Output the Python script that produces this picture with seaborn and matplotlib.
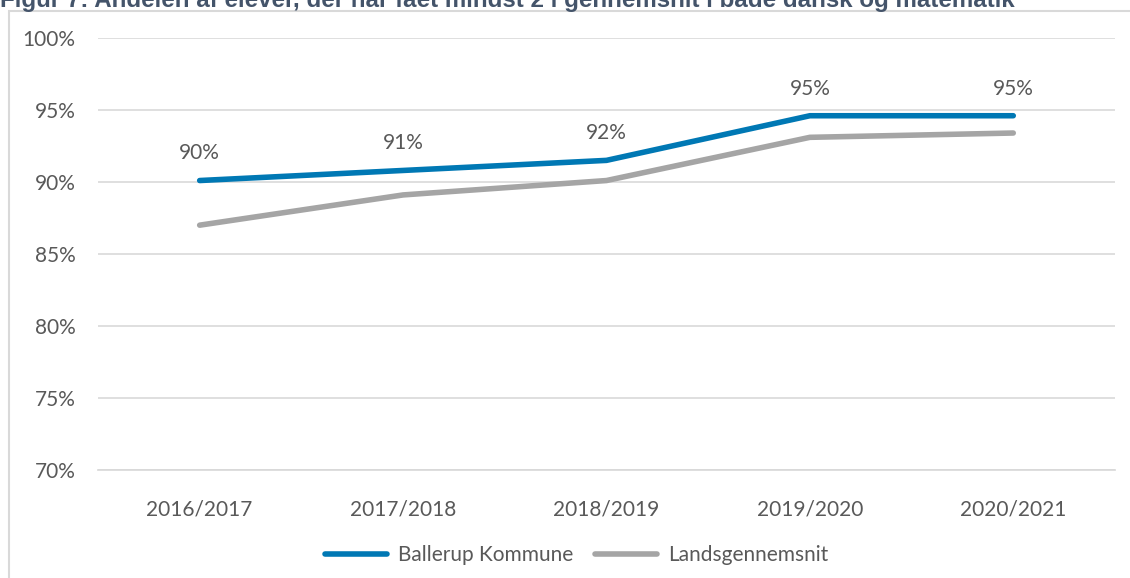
import pandas as pd
import matplotlib
matplotlib.use("Agg")
import matplotlib.pyplot as plt
from matplotlib.patches import Rectangle
from matplotlib.ticker import FuncFormatter
import seaborn as sns

# Data
years = ["2016/2017", "2017/2018", "2018/2019", "2019/2020", "2020/2021"]
ballerup = [90.1, 90.8, 91.5, 94.6, 94.6]
landsgennemsnit = [87.0, 89.1, 90.1, 93.1, 93.4]
ballerup_labels = ["90%", "91%", "92%", "95%", "95%"]
series_names = ["Ballerup Kommune", "Landsgennemsnit"]
title = "Figur 7: Andelen af elever, der har fået mindst 2 i gennemsnit i både dansk og matematik"

df = pd.DataFrame({
    "year": years * 2,
    "value": ballerup + landsgennemsnit,
    "series": [series_names[0]] * len(years) + [series_names[1]] * len(years),
})

sns.set_theme(style="white")
plt.rcParams["font.family"] = ["Lato", "DejaVu Sans"]
text_color = "#595959"
fs = 15
palette = {series_names[0]: "#0078B4", series_names[1]: "#A5A5A5"}

fig = plt.figure(figsize=(11.3, 5.78), dpi=100)
ax = fig.add_axes([0.0867, 0.1869, 0.9, 0.7474])

# outer chart frame
fig.patches.append(Rectangle((8.5 / 1130, -0.1), 1.2, 1 - 11 / 578 + 0.1,
                             transform=fig.transFigure, fill=False,
                             edgecolor="#D9D9D9", linewidth=1.5))

sns.lineplot(data=df, x="year", y="value", hue="series", palette=palette,
             linewidth=4, sort=False, ax=ax, legend=False,
             solid_capstyle="round")

for i, lab in enumerate(ballerup_labels):
    ax.annotate(lab, (i, ballerup[i]), xytext=(0, 19.5), textcoords="offset points",
                ha="center", va="center", fontsize=fs, color=text_color)

ax.set_ylim(70, 100)
ax.set_xlim(-0.5, len(years) - 0.5)
ax.set_yticks(range(70, 101, 5))
ax.yaxis.set_major_formatter(FuncFormatter(lambda v, p: f"{v:.0f}%"))
ax.grid(axis="y", color="#D9D9D9", linewidth=1.2)
ax.set_axisbelow(True)
for s in ax.spines.values():
    s.set_visible(False)
ax.spines["bottom"].set_visible(True)
ax.spines["bottom"].set_color("#D9D9D9")
ax.tick_params(axis="both", length=0, labelsize=fs, labelcolor=text_color)
ax.tick_params(axis="x", pad=21)
ax.tick_params(axis="y", pad=16)
ax.set_xlabel("")
ax.set_ylabel("")

handles = [plt.Line2D([0], [0], color=palette[n], linewidth=4, solid_capstyle="round")
           for n in series_names]
fig.legend(handles, series_names, loc="center", bbox_to_anchor=(0.51, 1 - 555 / 578),
           ncol=2, frameon=False, fontsize=fs, labelcolor=text_color,
           handlelength=3.0, handletextpad=0.5, columnspacing=1.05)

fig.text(0.0, 1 - 7.5 / 578, title, ha="left", va="baseline", fontsize=17.4,
         fontweight="bold", color="#44546A", family=["Liberation Sans", "DejaVu Sans"])

fig.savefig("out.png", dpi=100)
